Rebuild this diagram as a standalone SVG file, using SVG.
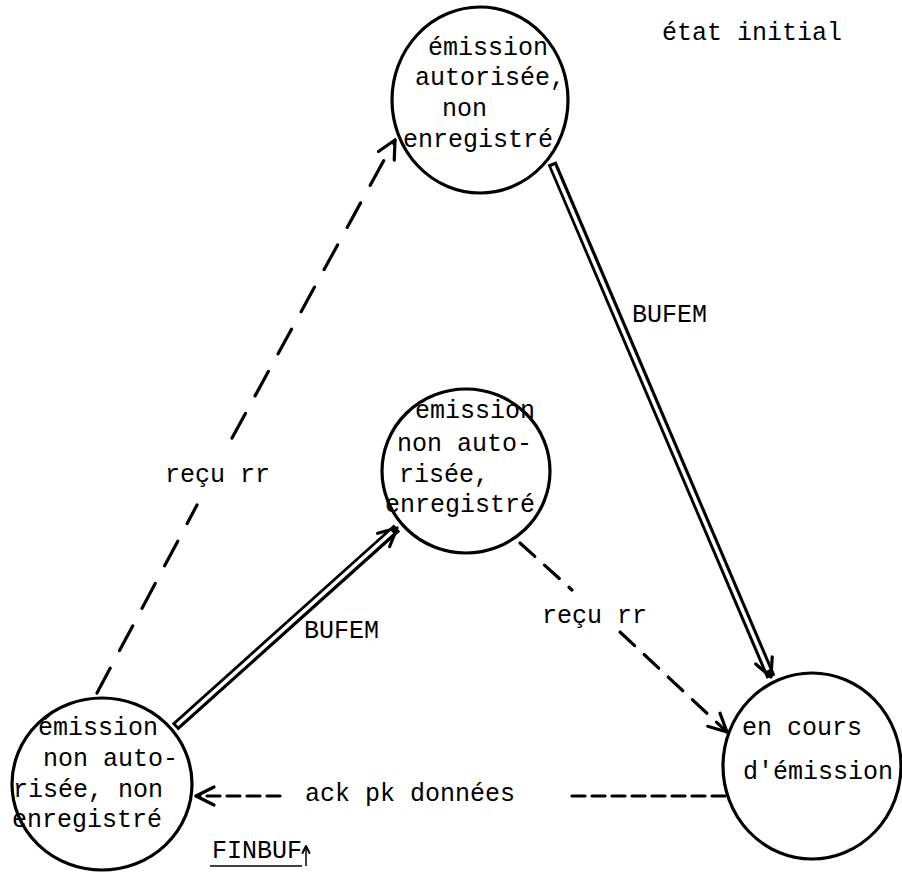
<svg xmlns="http://www.w3.org/2000/svg" width="902" height="875" viewBox="0 0 902 875">
<defs>
<marker id="open" markerUnits="userSpaceOnUse" markerWidth="34" markerHeight="34" viewBox="-24 -17 28 34" refX="0" refY="0" orient="auto"><path d="M-18,-9 L0,0 L-18,9" fill="none" stroke="#000" stroke-width="3.2" stroke-linecap="round" stroke-linejoin="round"/></marker>
<marker id="small" markerUnits="userSpaceOnUse" markerWidth="16" markerHeight="16" viewBox="-10 -8 12 16" refX="0" refY="0" orient="auto"><path d="M-7,-3.5 L0,0 L-7,3.5" fill="none" stroke="#000" stroke-width="2" stroke-linecap="round" stroke-linejoin="round"/></marker>
</defs>
<style>
.node{fill:none;stroke:#000;stroke-width:3.2}
text{font-family:"Liberation Mono","DejaVu Sans Mono",monospace;font-size:25px;fill:#000}
.dash{fill:none;stroke:#000;stroke-width:3.2;stroke-linecap:round}
.d1{stroke-dasharray:28 20}
.d2{stroke-dasharray:20 13}
.d3{stroke-dasharray:13 7}
.dblo{fill:none;stroke:#000;stroke-width:9.5}
.dbli{fill:none;stroke:#fff;stroke-width:3.5}
</style>
<rect x="0" y="0" width="902" height="875" fill="#fff"/>

<g id="label-initial"><text x="662" y="40">état initial</text></g>

<g id="n-top">
<ellipse class="node" cx="480" cy="100" rx="88" ry="93"/>
<text x="428" y="55">émission</text>
<text x="415" y="85">autorisée,</text>
<text x="442" y="116">non</text>
<text x="403" y="147">enregistré</text>
</g>

<g id="n-middle">
<ellipse class="node" cx="466" cy="471" rx="84" ry="82"/>
<text x="415" y="418">émission</text>
<text x="397" y="451">non auto-</text>
<text x="399" y="482">risée,</text>
<text x="385" y="512">enregistré</text>
</g>

<g id="n-left">
<ellipse class="node" cx="102" cy="784" rx="90" ry="86"/>
<text x="38" y="735">émission</text>
<text x="43" y="766">non auto-</text>
<text x="13" y="797">risée, non</text>
<text x="12" y="827">enregistré</text>
</g>

<g id="n-right">
<ellipse class="node" cx="812" cy="766" rx="89" ry="93"/>
<text x="742" y="735">en cours</text>
<text x="743" y="779">d'émission</text>
</g>

<g id="connectors">
<path class="dash d1" d="M97,693 L197,505"/>
<path class="dash d1" d="M232,438 L395,140" marker-end="url(#open)"/>
<text x="165" y="482">reçu rr</text>

<path class="dblo" d="M552,163 L771,677" marker-end="url(#open)"/>
<path class="dbli" d="M553,166 L768,670"/>
<text x="632" y="322">BUFEM</text>

<path class="dblo" d="M175,727 L397,528" marker-end="url(#open)"/>
<path class="dbli" d="M177,725 L392,532"/>
<text x="304" y="638">BUFEM</text>

<path class="dash d2" d="M520,543 L572,590"/>
<path class="dash d2" d="M620,632 L727,732" marker-end="url(#open)"/>
<text x="542" y="623">reçu rr</text>

<path class="dash d3" d="M725,796 L572,796"/>
<path class="dash d3" d="M280,796 L196,796" marker-end="url(#open)"/>
<text x="305" y="801">ack pk données</text>

<text x="212" y="858">FINBUF</text>
<path d="M210,866 L302,866" stroke="#000" stroke-width="1.5"/>
<path d="M306,866 L306,846" stroke="#000" stroke-width="1.5" fill="none" marker-end="url(#small)"/>
</g>
</svg>
